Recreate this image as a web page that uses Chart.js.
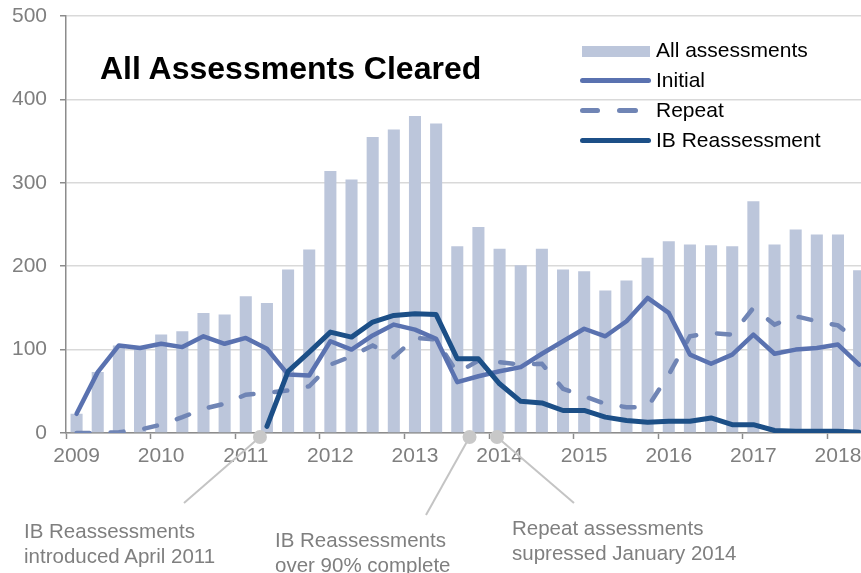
<!DOCTYPE html>
<html>
<head>
<meta charset="utf-8">
<script src="https://cdn.jsdelivr.net/npm/chart.js@4.4.1/dist/chart.umd.min.js"></script>
<style>
    html, body { margin: 0; padding: 0; background: #fff; overflow: hidden; }
    #wrap { position: relative; width: 861px; height: 573px; overflow: hidden; font-family: "Liberation Sans", Arial, sans-serif; }
    #chart { position: absolute; left: 0; top: 0; }
    .title { position: absolute; left: 100px; top: 52px; font-size: 32px; line-height: 32px; font-weight: bold; color: #000; white-space: nowrap; }
    .legend-text { position: absolute; left: 656px; font-size: 21px; line-height: 21px; color: #000; white-space: nowrap; }
    .swatch { position: absolute; height: 5px; border-radius: 2.5px; }
    .note { position: absolute; font-size: 20.5px; line-height: 25px; color: #7f7f7f; white-space: nowrap; }
</style>
</head>
<body>
<div id="wrap">
    <canvas id="chart" width="880" height="573"></canvas>
    <div class="title">All Assessments Cleared</div>

    <div class="swatch" style="left:582px; top:46px; width:68px; height:11px; border-radius:0; background:#bcc6db"></div>
    <div class="legend-text" style="top:39px">All assessments</div>
    <div class="swatch" style="left:580px; top:78px; width:71px; background:#5a72b0"></div>
    <div class="legend-text" style="top:69px">Initial</div>
    <div class="swatch" style="left:580px; top:108px; width:20px; background:#7085b5"></div>
    <div class="swatch" style="left:617px; top:108px; width:21px; background:#7085b5"></div>
    <div class="legend-text" style="top:99px">Repeat</div>
    <div class="swatch" style="left:580px; top:138px; width:71px; background:#1c4f87"></div>
    <div class="legend-text" style="top:129px">IB Reassessment</div>

    <div class="note" style="left:24px; top:518px">IB Reassessments<br>introduced April 2011</div>
    <div class="note" style="left:275px; top:527px">IB Reassessments<br>over 90% complete</div>
    <div class="note" style="left:512px; top:515px">Repeat assessments<br>supressed January 2014</div>
</div>
<script>
// quarterly, 2009 Q1 .. 2018 Q2
const years = ['2009', '2010', '2011', '2012', '2013', '2014', '2015', '2016', '2017', '2018'];
const allAssessments = [23, 73, 105, 101, 118, 122, 144, 142, 164, 156, 196, 220, 314, 304, 355, 364, 380, 371, 224, 247,
    221, 201, 221, 196, 194, 171, 183, 210, 230, 226, 225, 224, 278, 226, 244, 238, 238, 195];
const initial = [23, 73, 105, 102, 107, 103, 116, 107, 114, 101, 70, 69, 110, 100, 117, 130, 124, 113, 61, 68,
    74, 79, 95, 110, 125, 116, 134, 162, 144, 94, 83, 94, 118, 95, 100, 102, 106, 82];
const repeat = [0, 0, 1, 4, 10, 19, 29, 35, 46, 48, 51, 56, 82, 92, 105, 91, 114, 112, 72, 87,
    85, 82, 83, 53, 44, 35, 31, 31, 70, 116, 120, 118, 150, 130, 140, 134, 129, 109];
const ibReassessment = [null, null, null, null, null, null, null, null, null, 8, 74, 97, 121, 115, 133, 141, 143, 142, 89, 89,
    59, 38, 36, 27, 27, 19, 15, 13, 14, 14, 18, 10, 10, 3, 2, 2, 2, 1];
const yTicks = [0, 100, 200, 300, 400, 500];

// grey markers under the axis (category position) and where their leader lines end
const notePoints = [8.67, 18.58, 19.88];
const noteEnds = [[184, 503], [426, 515], [574, 503]];

const labels = allAssessments.map((_, i) => (i % 4 === 0 ? years[i / 4] : ''));

const axisGrey = '#8c8c8c';
const textGrey = '#7f7f7f';

Chart.defaults.font.family = '"Liberation Sans", Arial, sans-serif';
Chart.defaults.font.size = 21;

const notesPlugin = {
    id: 'notes',
    afterDraw(chart) {
        const ctx = chart.ctx;
        const x = chart.scales.x;
        const baseY = chart.chartArea.bottom + 4;
        ctx.save();
        ctx.strokeStyle = '#c4c4c4';
        ctx.fillStyle = '#c8c8c8';
        ctx.lineWidth = 2;
        notePoints.forEach((pos, i) => {
            const px = x.getPixelForValue(pos);
            ctx.beginPath();
            ctx.moveTo(px, baseY);
            ctx.lineTo(noteEnds[i][0], noteEnds[i][1]);
            ctx.stroke();
        });
        notePoints.forEach((pos) => {
            const px = x.getPixelForValue(pos);
            ctx.beginPath();
            ctx.arc(px, baseY, 7, 0, Math.PI * 2);
            ctx.fill();
        });
        ctx.restore();
    },
};

new Chart(document.getElementById('chart'), {
    type: 'bar',
    data: {
        labels,
        datasets: [
            {
                type: 'line',
                label: 'IB Reassessment',
                data: ibReassessment,
                borderColor: '#1c4f87',
                borderWidth: 5,
                pointRadius: 0,
                tension: 0,
                borderCapStyle: 'round',
                borderJoinStyle: 'round',
                order: 1,
            },
            {
                type: 'line',
                label: 'Initial',
                data: initial,
                borderColor: '#5a72b0',
                borderWidth: 4.5,
                pointRadius: 0,
                tension: 0,
                borderCapStyle: 'round',
                borderJoinStyle: 'round',
                order: 2,
            },
            {
                type: 'line',
                label: 'Repeat',
                data: repeat,
                borderColor: '#7085b5',
                borderWidth: 4.5,
                borderDash: [13, 21],
                pointRadius: 0,
                tension: 0,
                borderCapStyle: 'round',
                order: 3,
            },
            {
                label: 'All assessments',
                data: allAssessments,
                backgroundColor: '#bcc6db',
                barPercentage: 0.57,
                categoryPercentage: 1,
                order: 4,
            },
        ],
    },
    options: {
        responsive: false,
        devicePixelRatio: 1,
        animation: false,
        layout: { padding: { top: 16, right: 10.3, left: 0, bottom: 0 } },
        plugins: {
            legend: { display: false },
            tooltip: { enabled: false },
        },
        scales: {
            x: {
                offset: true,
                afterFit: (scale) => { scale.height = 140; },
                border: { color: axisGrey, width: 1.5 },
                grid: {
                    offset: true,
                    drawOnChartArea: false,
                    tickLength: 6,
                    tickWidth: 1.5,
                    tickColor: (ctx) => (ctx.index % 4 === 0 ? axisGrey : 'rgba(0,0,0,0)'),
                },
                ticks: { autoSkip: false, maxRotation: 0, color: textGrey, padding: 5 },
            },
            y: {
                min: 0,
                max: 500,
                afterFit: (scale) => {
                    scale.width = 66;
                    scale.paddingTop = 0;
                    scale.paddingBottom = 0;
                },
                afterBuildTicks: (scale) => { scale.ticks = yTicks.map(v => ({ value: v })); },
                border: { color: axisGrey, width: 1.5 },
                grid: { color: '#d9d9d9', lineWidth: 1.5, tickColor: axisGrey, tickLength: 6 },
                ticks: { color: textGrey, padding: 13 },
            },
        },
    },
    plugins: [notesPlugin],
});
</script>
</body>
</html>
